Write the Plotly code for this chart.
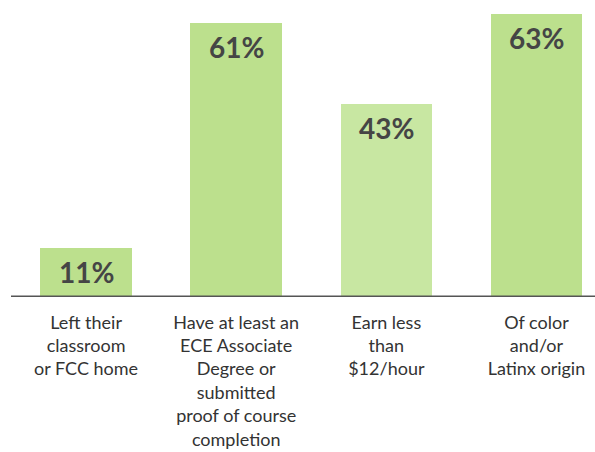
import plotly.graph_objects as go

categories = ["Left their<br>classroom<br>or FCC home",
              "Have at least an<br>ECE Associate<br>Degree or<br>submitted<br>proof of course<br>completion",
              "Earn less<br>than<br>$12/hour",
              "Of color<br>and/or<br>Latinx origin"]
values = [11, 61, 43, 63]
labels = ["11%", "61%", "43%", "63%"]
colors = ["#bce08d", "#bce08d", "#c8e7a2", "#bce08d"]

x = list(range(len(values)))

fig = go.Figure()
fig.add_trace(go.Bar(x=x, y=values, width=0.61, marker=dict(color=colors, line=dict(width=0)),
                     hoverinfo="skip"))

for xi, v, t in zip(x, values, labels):
    fig.add_annotation(x=xi, y=v, text="<b>" + t + "</b>", showarrow=False,
                       yanchor="top", yshift=-5,
                       font=dict(family="Lato", size=28, color="#454545"))

fig.update_layout(
    width=595, height=452,
    margin=dict(l=11, r=0, t=0, b=155),
    paper_bgcolor="white", plot_bgcolor="white",
    showlegend=False,
    bargap=0,
    xaxis=dict(range=[-0.5, 3.39], tickvals=x, ticktext=categories,
               showgrid=False, zeroline=False, showline=False,
               ticks="outside", ticklen=9, tickcolor="rgba(0,0,0,0)",
               tickfont=dict(family="Lato", size=18, color="#333333"),
               automargin=False, fixedrange=True),
    yaxis=dict(range=[0, 66], visible=False, fixedrange=True, automargin=False),
)
fig.add_shape(type="line", xref="paper", yref="y", x0=0, x1=1, y0=0, y1=0,
              line=dict(color="#555555", width=3))

fig.write_html("out.html")
